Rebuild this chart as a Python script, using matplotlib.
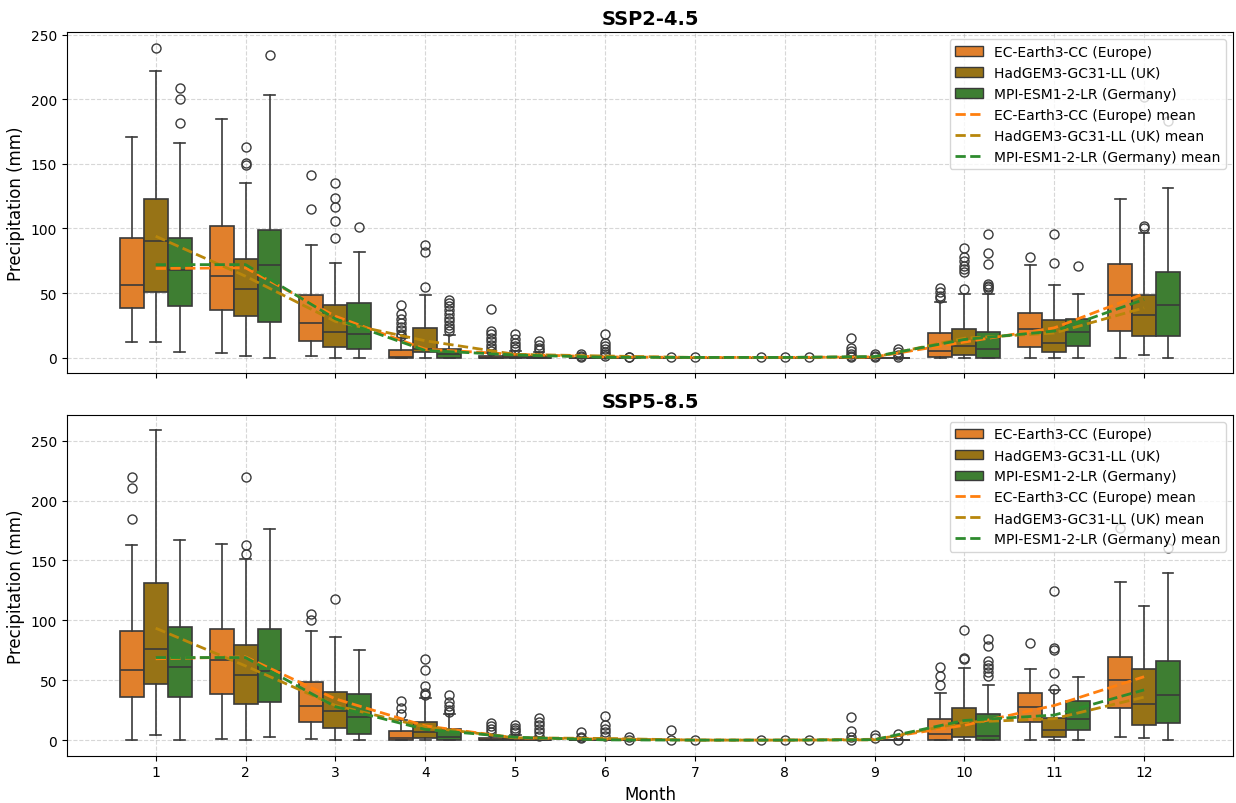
import numpy as np
import matplotlib
matplotlib.use('Agg')
from matplotlib import pyplot as plt
from matplotlib.patches import Patch
from matplotlib.lines import Line2D

months = list(range(1, 13))
models = ['EC-Earth3-CC (Europe)', 'HadGEM3-GC31-LL (UK)', 'MPI-ESM1-2-LR (Germany)']
box_colors = ['#E1802C', '#977316', '#3E7E32']
line_colors = ['#FF7F0E', '#B8860B', '#2E8B2E']

# ---- SSP2-4.5 box stats ----
ssp245_ec_lo = [12, 3.5, 1, 0, 0, 0, 0, 0, 0, 0, 0, 0]
ssp245_ec_q1 = [38.5, 37, 13, 0, 0, 0, 0, 0, 0, 0.5, 8.5, 20.5]
ssp245_ec_med = [56, 63.5, 27, 0.5, 0, 0, 0, 0, 0, 5, 22, 48.5]
ssp245_ec_q3 = [93, 102, 48.5, 6, 1.5, 0, 0, 0, 0, 19, 34.5, 72.5]
ssp245_ec_hi = [170.5, 185, 87.5, 15, 3.5, 0, 0, 0, 0, 43, 72, 122.5]
ssp245_ec_fl = [[], [], [115, 141.5], [16.5, 18.5, 21, 23.5, 27, 30, 33.5, 41],
                [5, 7.5, 10, 13, 15.5, 18, 20.5, 37.5], [0.8, 1.5, 2.5], [0.3], [0.2],
                [0.5, 1.5, 2.5, 5, 7.5, 15], [46, 48, 50.5, 54], [78], []]

ssp245_had_lo = [12, 1, 0, 0, 0, 0, 0, 0, 0, 0, 0, 2]
ssp245_had_q1 = [50.5, 32.5, 8.5, 4, 0, 0, 0, 0, 0, 2, 4, 17]
ssp245_had_med = [90.5, 53, 20, 7, 0.3, 0, 0, 0, 0, 9, 11, 33]
ssp245_had_q3 = [122.5, 76.5, 40.5, 23, 2, 0.2, 0, 0, 0, 22.5, 29, 48.5]
ssp245_had_hi = [222, 135, 73, 48.5, 5, 0.5, 0, 0, 0.3, 49.5, 56, 96.5]
ssp245_had_fl = [[240], [149.5, 150.5, 163], [92.5, 105.5, 116.5, 124, 135], [55, 81.5, 87],
                 [7, 9, 11.5, 14, 18], [1.3, 2.5, 4, 6.5, 9, 11.5, 18.5], [0.3], [0.2],
                 [0.8, 1.5, 2.5], [53.5, 66.5, 68.5, 71, 75, 78, 85], [73, 95.5],
                 [100, 102, 201.5]]

ssp245_mpi_lo = [4, 0, 0, 0, 0, 0, 0, 0, 0, 0, 0, 0]
ssp245_mpi_q1 = [40, 27.5, 6.5, 0, 0, 0, 0, 0, 0, 0, 9, 17]
ssp245_mpi_med = [67.5, 71.5, 18, 2.5, 0, 0, 0, 0, 0, 7, 20, 41]
ssp245_mpi_q3 = [92.5, 98.5, 42.5, 7, 1.5, 0, 0, 0, 0, 20, 29.5, 66.5]
ssp245_mpi_hi = [166.5, 203.5, 81.5, 17.5, 4, 0, 0, 0, 0, 49.5, 49.5, 131]
ssp245_mpi_fl = [[181.5, 200, 208.5], [234.5], [101.5],
                 [20.5, 23, 25, 28, 31, 34, 36.5, 40, 42, 44.5], [5.5, 7.5, 10, 12.5],
                 [0.3, 0.8], [], [0.3], [0.5, 2, 4, 6.5],
                 [53, 54.5, 55.5, 57, 72.5, 81, 95.5], [71], [183.5]]

ssp245_ec_mean = [69, 69.5, 32, 6.5, 2.5, 0.5, 0.1, 0.1, 0.5, 12, 23, 49.5]
ssp245_had_mean = [94, 63, 28, 13, 2.5, 1.2, 0.1, 0.1, 0.3, 15, 19, 38.5]
ssp245_mpi_mean = [72, 72, 30, 5.5, 2, 0.2, 0.1, 0.1, 0.8, 14, 20.5, 45]

# ---- SSP5-8.5 box stats ----
ssp585_ec_lo = [0.5, 1, 1, 0, 0, 0, 0, 0, 0, 0, 0.5, 3]
ssp585_ec_q1 = [36, 38.5, 15.5, 0, 0, 0, 0, 0, 0, 0, 15.5, 27]
ssp585_ec_med = [59, 67, 28.5, 1.5, 0, 0, 0, 0, 0, 5.5, 28, 50]
ssp585_ec_q3 = [91.5, 93, 48.5, 8, 1.5, 0, 0, 0, 0, 18, 39.5, 69.5]
ssp585_ec_hi = [163, 163.5, 91.5, 17, 4, 0, 0, 0, 0, 39.5, 59.5, 132]
ssp585_ec_fl = [[184.5, 210.5, 219.5], [], [100.5, 105], [22, 26.5, 33], [7, 9.5, 12, 14],
                [1.5, 3, 6.5], [0.3, 8.5], [0.3], [0.5, 3, 7.5, 19], [46.5, 54, 61], [81],
                [177]]

ssp585_had_lo = [4, 0, 0.5, 0, 0, 0, 0, 0, 0, 0, 0, 1.5]
ssp585_had_q1 = [47, 30, 10.5, 2, 0, 0, 0, 0, 0, 3, 3, 13]
ssp585_had_med = [76, 54.5, 24, 7, 0.3, 0, 0, 0, 0, 14, 8.5, 30]
ssp585_had_q3 = [131.5, 79.5, 40.5, 15.5, 1.5, 0.2, 0, 0, 0, 26.5, 18.5, 59.5]
ssp585_had_hi = [258.5, 151, 86, 35, 4, 1, 0, 0, 0, 60.5, 42, 112]
ssp585_had_fl = [[], [155, 163, 220], [118], [37.5, 39, 45.5, 59, 67.5],
                 [6.5, 8.5, 10.5, 12.5], [3.5, 7, 9.5, 12.5, 20.5], [0.3], [0.3], [1.5, 4],
                 [67.5, 68.5, 92], [43, 56, 75, 77, 124.5], []]

ssp585_mpi_lo = [0, 3, 0, 0, 0, 0, 0, 0, 0, 0, 0, 0]
ssp585_mpi_q1 = [36, 32, 5.5, 0, 0, 0, 0, 0, 0, 0, 8.5, 14.5]
ssp585_mpi_med = [61.5, 58, 19.5, 3, 0, 0, 0, 0, 0, 3.5, 17.5, 37.5]
ssp585_mpi_q3 = [94.5, 92.5, 38.5, 9, 1.5, 0, 0, 0, 0, 22, 33, 66]
ssp585_mpi_hi = [167.5, 176.5, 75.5, 22, 3, 0, 0, 0, 0, 46.5, 53, 139.5]
ssp585_mpi_fl = [[], [], [], [23.5, 25, 28.5, 32, 38], [3.5, 6.5, 9.5, 12.5, 15.5, 18.5],
                 [0.3, 3], [], [0.3], [0.3, 5.5], [54, 57, 60.5, 63, 66, 78.5, 84.5], [],
                 [160.5]]

ssp585_ec_mean = [68, 69.5, 34.5, 12, 2, 1, 0.2, 0.1, 0.8, 12.5, 29, 53]
ssp585_had_mean = [93.5, 62, 29, 11, 2, 1.5, 0.1, 0.1, 0.3, 15, 18, 36]
ssp585_mpi_mean = [69, 69, 28, 9, 2.5, 0.3, 0.1, 0.1, 0.5, 16.5, 21, 42]

scenarios = [
    ('SSP2-4.5',
     [(ssp245_ec_lo, ssp245_ec_q1, ssp245_ec_med, ssp245_ec_q3, ssp245_ec_hi, ssp245_ec_fl),
      (ssp245_had_lo, ssp245_had_q1, ssp245_had_med, ssp245_had_q3, ssp245_had_hi, ssp245_had_fl),
      (ssp245_mpi_lo, ssp245_mpi_q1, ssp245_mpi_med, ssp245_mpi_q3, ssp245_mpi_hi, ssp245_mpi_fl)],
     [ssp245_ec_mean, ssp245_had_mean, ssp245_mpi_mean]),
    ('SSP5-8.5',
     [(ssp585_ec_lo, ssp585_ec_q1, ssp585_ec_med, ssp585_ec_q3, ssp585_ec_hi, ssp585_ec_fl),
      (ssp585_had_lo, ssp585_had_q1, ssp585_had_med, ssp585_had_q3, ssp585_had_hi, ssp585_had_fl),
      (ssp585_mpi_lo, ssp585_mpi_q1, ssp585_mpi_med, ssp585_mpi_q3, ssp585_mpi_hi, ssp585_mpi_fl)],
     [ssp585_ec_mean, ssp585_had_mean, ssp585_mpi_mean]),
]

edge = '#3a3a3a'
bw = 0.8 / 3

fig, axes = plt.subplots(2, 1, figsize=(12.36, 8.04), dpi=100, sharex=True)
fig.subplots_adjust(left=0.054, right=0.9976, top=0.9586, bottom=0.0588, hspace=0.123)

for ax, (title, boxes, means) in zip(axes, scenarios):
    for i, (lo, q1, med, q3, hi, fl) in enumerate(boxes):
        stats = []
        for m in range(12):
            stats.append({'whislo': lo[m], 'q1': q1[m], 'med': med[m], 'q3': q3[m],
                          'whishi': hi[m], 'fliers': fl[m]})
        pos = [mo + (i - 1) * bw for mo in months]
        ax.bxp(stats, positions=pos, widths=bw, patch_artist=True, showfliers=True,
               capwidths=bw * 0.45, manage_ticks=False,
               boxprops=dict(facecolor=box_colors[i], edgecolor=edge, linewidth=1.2),
               medianprops=dict(color=edge, linewidth=1.2),
               whiskerprops=dict(color=edge, linewidth=1.2),
               capprops=dict(color=edge, linewidth=1.2),
               flierprops=dict(marker='o', markerfacecolor='none', markeredgecolor=edge,
                               markersize=6.5, markeredgewidth=1.0))
    for i, mv in enumerate(means):
        ax.plot(months, mv, linestyle='--', color=line_colors[i], linewidth=2, zorder=5)

    ax.set_title(title, fontsize=14, fontweight='bold')
    ax.set_ylabel('Precipitation (mm)', fontsize=12)
    ax.grid(True, linestyle='--', alpha=0.5)
    ax.set_axisbelow(True)
    ax.margins(y=0.05)

    handles = [Patch(facecolor=box_colors[i], edgecolor=edge, label=models[i]) for i in range(3)]
    handles += [Line2D([0], [0], color=line_colors[i], linestyle='--', linewidth=2,
                       label=models[i] + ' mean') for i in range(3)]
    ax.legend(handles=handles, loc='upper right', fontsize=10)

axes[1].set_xlim(0.01, 12.99)
axes[1].set_xticks(months)
axes[1].set_xticklabels([str(m) for m in months])
axes[1].set_xlabel('Month', fontsize=12)

plt.savefig('out.png')
